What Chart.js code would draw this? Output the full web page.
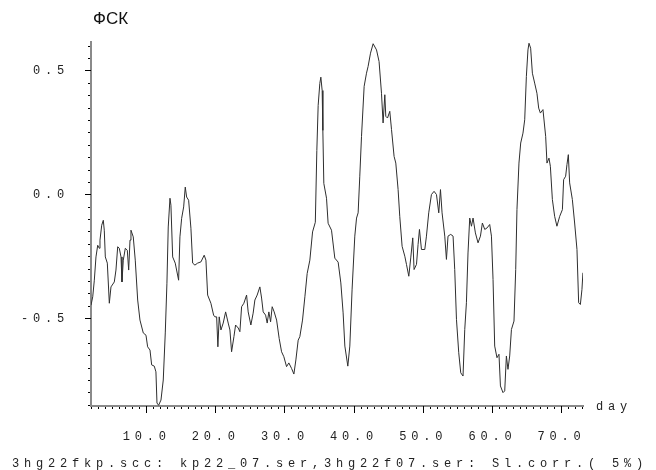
<!DOCTYPE html>
<html><head><meta charset="utf-8">
<script src="https://cdn.jsdelivr.net/npm/chart.js@4.4.0/dist/chart.umd.min.js"></script>
<style>html,body{margin:0;padding:0;background:#fff;}canvas{display:block;}</style>
</head><body>
<canvas id="c" width="656" height="470"></canvas>
<script>
const days = [
1.95,2.20,2.43,2.67,2.92,3.15,3.25,3.50,3.73,3.87,
4.02,4.31,4.60,4.84,5.32,5.56,5.81,6.04,6.29,6.43,
6.62,6.91,7.20,7.40,7.59,7.73,8.06,8.35,8.70,9.03,
9.51,9.90,10.14,10.48,10.72,11.10,11.34,11.49,11.73,12.07,
12.40,12.69,12.93,13.12,13.37,13.51,13.76,14.13,14.62,14.81,
15.06,15.35,15.58,15.78,16.07,16.40,16.65,16.98,17.37,17.85,
18.32,18.57,18.82,19.29,19.68,19.87,20.12,20.30,20.49,20.74,
21.07,21.42,21.79,22.04,22.28,22.62,22.86,23.24,23.48,23.73,
24.06,24.45,24.68,25.07,25.40,25.65,25.98,26.37,26.62,26.85,
27.20,27.43,27.67,27.92,28.15,28.44,28.79,29.16,29.51,29.84,
30.23,30.56,30.95,31.29,31.58,31.91,32.15,32.54,32.88,33.21,
33.60,33.99,
34.39,34.61,34.80,35.04,35.19,35.38,35.48,35.62,
36.01,36.24,36.73,37.21,37.69,38.08,38.41,38.66,39.09,
39.38,39.71,40.10,40.35,40.58,40.82,41.07,41.45,41.79,42.02,
42.37,42.75,43.24,43.61,43.96,44.19,44.44,44.58,44.83,45.16,
45.41,45.78,46.03,46.36,46.60,46.94,47.33,47.57,47.91,48.19,
48.48,48.67,49.02,49.25,49.45,49.74,50.22,50.46,50.79,51.18,
51.56,51.91,52.24,52.49,52.72,53.11,53.35,53.58,53.97,54.31,
54.55,54.80,55.13,55.42,55.75,56.00,56.24,56.47,56.72,56.97,
57.20,57.54,57.92,58.27,58.55,58.89,59.22,59.61,59.86,60.09,
60.33,60.66,60.95,61.16,61.53,61.78,62.02,62.25,62.50,62.75,
63.12,63.37,63.55,63.84,64.09,64.42,64.67,64.91,65.14,65.29,
65.53,65.78,66.11,66.44,66.69,66.94,67.31,67.70,67.89,68.18,
68.38,68.67,69.00,69.33,69.73,70.12,70.30,70.59,70.78,70.98,
71.17,71.56,71.89,72.23,72.47,72.72,72.95,73.09
];
const values = [
-0.446,-0.412,-0.345,-0.251,-0.204,-0.216,-0.183,-0.123,-0.103,-0.143,
-0.251,-0.276,-0.438,-0.372,-0.352,-0.304,-0.210,-0.216,-0.251,-0.352,
-0.264,-0.216,-0.224,-0.304,-0.183,-0.143,-0.170,-0.264,-0.425,-0.506,
-0.558,-0.567,-0.614,-0.627,-0.687,-0.692,-0.715,-0.841,-0.850,-0.829,
-0.748,-0.558,-0.357,-0.130,-0.014,-0.042,-0.251,-0.276,-0.345,-0.170,
-0.095,-0.049,0.031,-0.009,-0.022,-0.135,-0.276,-0.284,-0.276,-0.271,
-0.244,-0.264,-0.405,-0.438,-0.486,-0.493,-0.493,-0.614,-0.493,-0.546,
-0.518,-0.473,-0.518,-0.546,-0.634,-0.573,-0.526,-0.538,-0.553,-0.452,
-0.438,-0.405,-0.473,-0.526,-0.478,-0.425,-0.405,-0.372,-0.417,-0.473,
-0.486,-0.518,-0.473,-0.513,-0.452,-0.473,-0.506,-0.580,-0.634,-0.654,
-0.694,-0.679,-0.701,-0.724,-0.667,-0.587,-0.573,-0.506,-0.412,-0.318,
-0.264,-0.150,
-0.111,0.179,0.361,0.450,0.475,0.421,0.260,0.046,
-0.014,-0.115,-0.143,-0.256,-0.272,-0.356,-0.477,-0.611,-0.692,
-0.611,-0.381,-0.167,-0.094,-0.073,0.075,0.236,0.438,0.491,0.518,
0.572,0.610,0.585,0.538,0.410,0.290,0.404,0.317,0.310,0.337,
0.263,0.155,0.128,0.021,-0.087,-0.208,-0.248,-0.281,-0.329,-0.255,
-0.174,-0.302,-0.281,-0.201,-0.140,-0.221,-0.221,-0.167,-0.073,0.001,
0.014,0.001,-0.073,0.021,-0.073,-0.167,-0.261,-0.167,-0.160,-0.167,
-0.302,-0.503,-0.638,-0.719,-0.732,-0.544,-0.436,-0.235,-0.094,-0.127,
-0.094,-0.154,-0.194,-0.167,-0.114,-0.140,-0.134,-0.120,-0.167,-0.342,
-0.611,-0.658,-0.644,-0.772,-0.799,-0.792,-0.651,-0.705,-0.651,-0.544,
-0.510,-0.302,-0.060,0.128,0.209,0.249,0.303,0.478,0.585,0.612,
0.592,0.491,0.451,0.410,0.350,0.330,0.344,0.236,0.128,0.148,
0.115,-0.019,-0.087,-0.127,-0.087,-0.060,0.061,0.075,0.122,0.162,
0.048,-0.019,-0.114,-0.221,-0.436,-0.443,-0.382,-0.315
];
const xMajorTicks = [10, 20, 30, 40, 50, 60, 70];
const yMajorTicks = [-0.5, 0.0, 0.5];
const xRange = [1.95, 73.1];
const yRange = [-0.853, 0.617];
const xMinorStep = 1;
const yMinorStep = 0.05;
const titleText = 'ФСК';
const xAxisName = 'day';
const footerText = '3hg22fkp.scc: kp22_07.ser,3hg22f07.ser: Sl.corr.( 5%)';

const MONO = '12px "Liberation Mono", "DejaVu Sans Mono", monospace';
const SPACING = '4.8px';

function isMajor(list, v) { return list.some(m => Math.abs(m - v) < 1e-9); }

const decor = {
  id: 'decor',
  beforeDraw(chart) { chart.ctx.letterSpacing = SPACING; },
  afterDraw(chart) {
    const ctx = chart.ctx, a = chart.chartArea;
    const xs = chart.scales.x, ys = chart.scales.y;
    ctx.save();
    ctx.strokeStyle = '#000';
    ctx.lineWidth = 1;
    ctx.beginPath();
    xMajorTicks.forEach(v => {
      const px = Math.round(xs.getPixelForValue(v) - 0.5) + 0.5;
      ctx.moveTo(px, a.bottom); ctx.lineTo(px, a.bottom + 7);
    });
    yMajorTicks.forEach(v => {
      const py = Math.round(ys.getPixelForValue(v) - 0.5) + 0.5;
      ctx.moveTo(a.left - 6, py); ctx.lineTo(a.left, py);
    });
    ctx.stroke();
    ctx.fillStyle = '#222';
    ctx.font = MONO;
    ctx.letterSpacing = SPACING;
    ctx.textBaseline = 'middle';
    ctx.textAlign = 'left';
    ctx.fillText(xAxisName, 596, a.bottom + 1);
    ctx.textAlign = 'center';
    ctx.fillText(footerText, 330, 464);
    ctx.font = '17px "Liberation Sans", Arial, sans-serif';
    ctx.letterSpacing = '0px';
    ctx.fillStyle = '#111';
    ctx.textAlign = 'left';
    ctx.fillText(titleText, a.left + 2, 19);
    ctx.restore();
  }
};

new Chart(document.getElementById('c'), {
  type: 'line',
  data: {
    datasets: [{
      data: days.map((d, i) => ({ x: d, y: values[i] })),
      borderColor: '#2e2e2e',
      borderWidth: 1,
      pointRadius: 0,
      tension: 0,
      fill: false
    }]
  },
  options: {
    responsive: false,
    animation: false,
    devicePixelRatio: 1,
    layout: { padding: { left: 0, right: 73, top: 42, bottom: 0 } },
    plugins: { legend: { display: false }, tooltip: { enabled: false }, title: { display: false } },
    scales: {
      x: {
        type: 'linear',
        min: xRange[0], max: xRange[1],
        afterFit(s) { s.height = 64; },
        afterBuildTicks(s) {
          const t = [];
          for (let v = Math.ceil(s.min); v <= s.max; v += xMinorStep) t.push({ value: v });
          s.ticks = t;
        },
        border: { display: true, color: '#8a8a8a', width: 2 },
        grid: { display: true, drawOnChartArea: false, drawTicks: true, tickLength: 3, tickColor: '#000', tickWidth: 1 },
        ticks: {
          autoSkip: false, maxRotation: 0, minRotation: 0, padding: 21,
          color: '#222', font: { family: '"Liberation Mono", monospace', size: 12 },
          callback: v => isMajor(xMajorTicks, v) ? v.toFixed(1) : ''
        }
      },
      y: {
        type: 'linear',
        min: yRange[0], max: yRange[1],
        afterFit(s) { s.width = 91; },
        afterBuildTicks(s) {
          const t = [];
          for (let k = Math.ceil(s.min / yMinorStep - 1e-9); k * yMinorStep <= s.max + 1e-9; k++) t.push({ value: +(k * yMinorStep).toFixed(2) });
          s.ticks = t;
        },
        border: { display: true, color: '#8a8a8a', width: 2 },
        grid: { display: true, drawOnChartArea: false, drawTicks: true, tickLength: 3, tickColor: '#000', tickWidth: 1 },
        ticks: {
          autoSkip: false, padding: 19,
          color: '#222', font: { family: '"Liberation Mono", monospace', size: 12 },
          callback: v => isMajor(yMajorTicks, v) ? v.toFixed(1) : ''
        }
      }
    }
  },
  plugins: [decor]
});
</script>
</body></html>
